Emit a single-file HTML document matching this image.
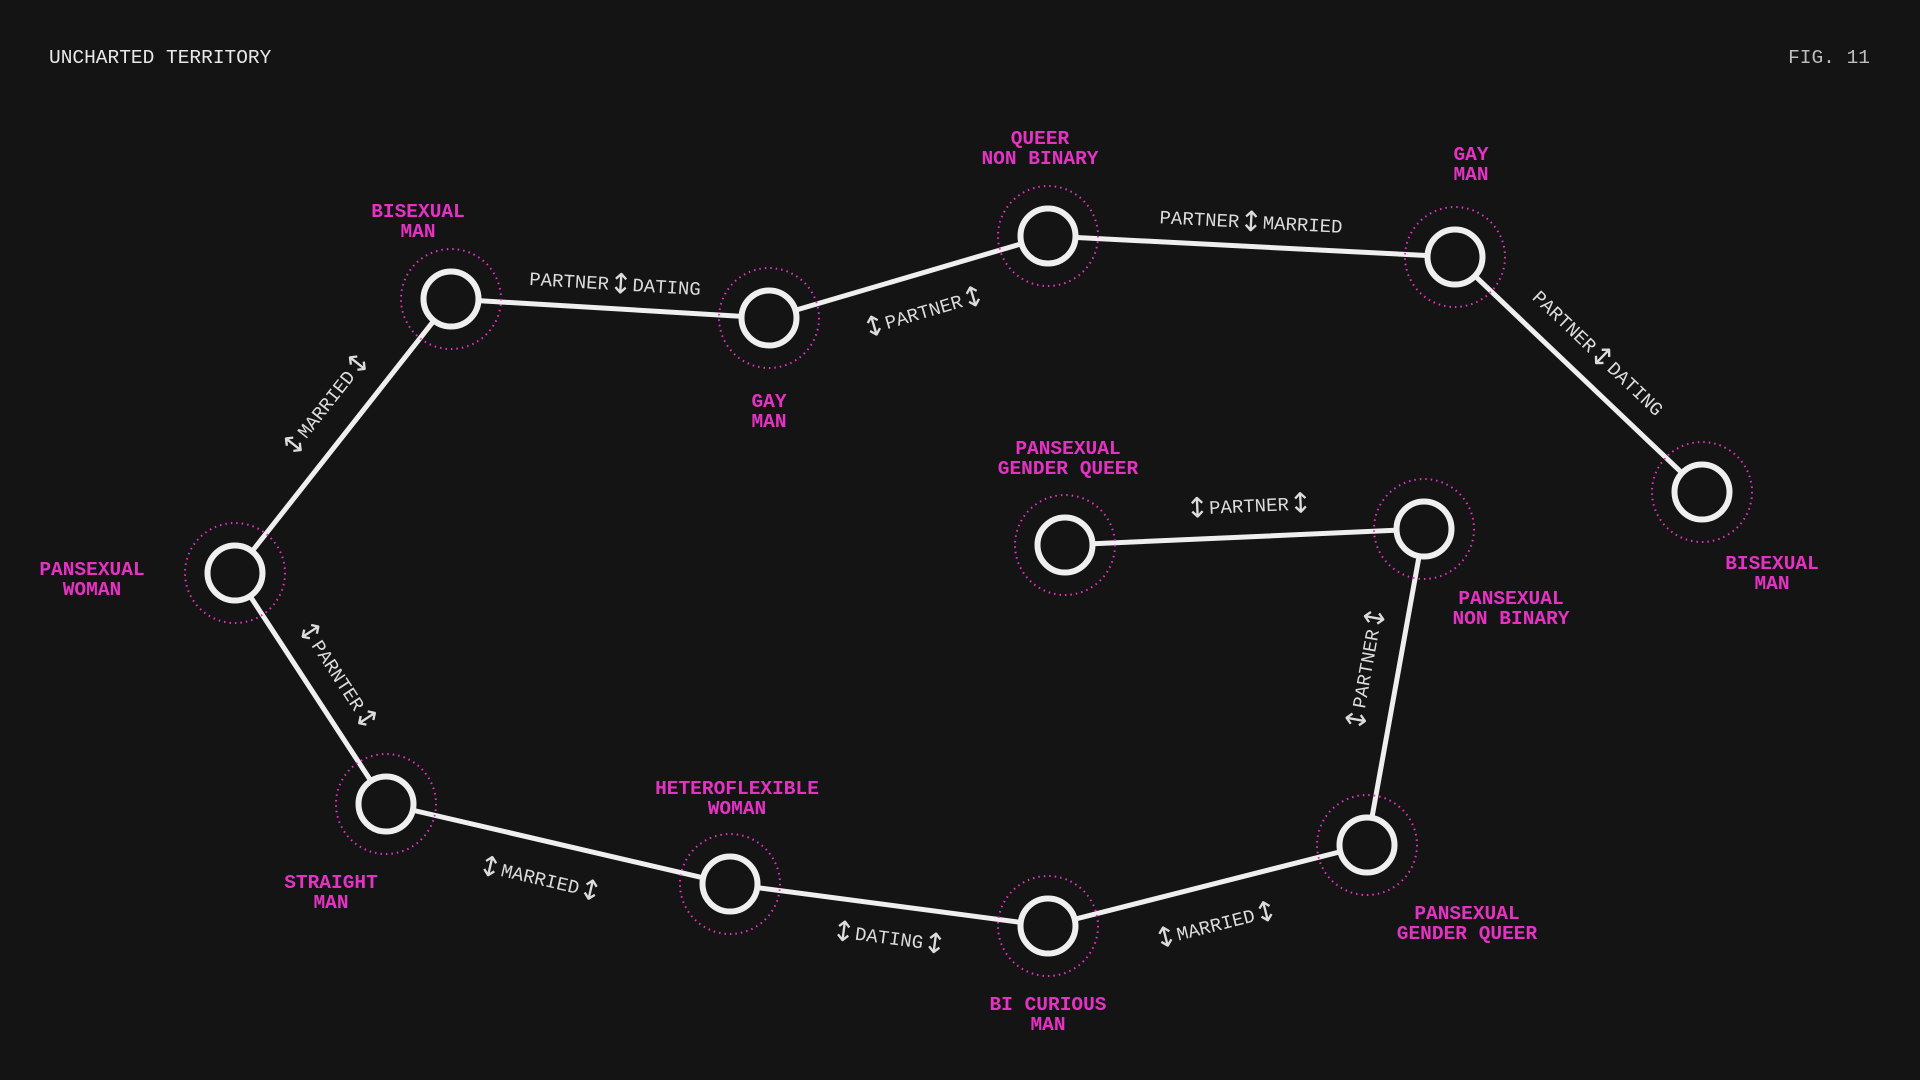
<!DOCTYPE html>
<html><head><meta charset="utf-8"><style>
html,body{margin:0;padding:0;background:#141414;}
svg{display:block}
.t{font-family:"Liberation Mono","DejaVu Sans Mono",monospace;}
.n{fill:#e433c2;font-weight:bold;font-size:19.5px;text-anchor:middle;font-family:"Liberation Mono","DejaVu Sans Mono",monospace;}
.e{fill:#dcdcdc;font-size:19px;text-anchor:middle;dominant-baseline:middle;font-family:"Liberation Mono","DejaVu Sans Mono",monospace;}
.a{font-size:28px;font-family:"DejaVu Sans",sans-serif;}
</style></head><body>
<svg width="1920" height="1080" viewBox="0 0 1920 1080" xmlns="http://www.w3.org/2000/svg">
<rect width="1920" height="1080" fill="#141414"/>
<text x="49" y="63" class="t" fill="#e8e8e8" font-size="19.5">UNCHARTED TERRITORY</text>
<text x="1870" y="63" class="t" fill="#bdbdbd" font-size="19.5" text-anchor="end">FIG. 11</text>
<g stroke="#efefef" stroke-width="5" fill="none" stroke-linecap="round">
<polyline points="386,804 235,573 451,299 769,318 1048,236 1455,257 1702,492"/>
<polyline points="386,804 730,884 1048,926 1367,845 1424,529 1065,545"/>
</g>
<g fill="none" stroke="#e433c2" stroke-width="2" stroke-dasharray="1.5 4">
<circle cx="235" cy="573" r="50"/><circle cx="451" cy="299" r="50"/><circle cx="769" cy="318" r="50"/>
<circle cx="1048" cy="236" r="50"/><circle cx="1455" cy="257" r="50"/><circle cx="1702" cy="492" r="50"/>
<circle cx="1065" cy="545" r="50"/><circle cx="1424" cy="529" r="50"/><circle cx="1367" cy="845" r="50"/>
<circle cx="1048" cy="926" r="50"/><circle cx="730" cy="884" r="50"/><circle cx="386" cy="804" r="50"/>
</g>
<g fill="#141414" stroke="#efefef" stroke-width="6">
<circle cx="235" cy="573" r="27.5"/><circle cx="451" cy="299" r="27.5"/><circle cx="769" cy="318" r="27.5"/>
<circle cx="1048" cy="236" r="27.5"/><circle cx="1455" cy="257" r="27.5"/><circle cx="1702" cy="492" r="27.5"/>
<circle cx="1065" cy="545" r="27.5"/><circle cx="1424" cy="529" r="27.5"/><circle cx="1367" cy="845" r="27.5"/>
<circle cx="1048" cy="926" r="27.5"/><circle cx="730" cy="884" r="27.5"/><circle cx="386" cy="804" r="27.5"/>
</g>
<g class="n">
<text x="92" y="575">PANSEXUAL</text><text x="92" y="595">WOMAN</text>
<text x="418" y="217">BISEXUAL</text><text x="418" y="237">MAN</text>
<text x="769" y="407">GAY</text><text x="769" y="427">MAN</text>
<text x="1040" y="144">QUEER</text><text x="1040" y="164">NON BINARY</text>
<text x="1471" y="160">GAY</text><text x="1471" y="180">MAN</text>
<text x="1772" y="569">BISEXUAL</text><text x="1772" y="589">MAN</text>
<text x="1068" y="454">PANSEXUAL</text><text x="1068" y="474">GENDER QUEER</text>
<text x="1511" y="604">PANSEXUAL</text><text x="1511" y="624">NON BINARY</text>
<text x="1467" y="919">PANSEXUAL</text><text x="1467" y="939">GENDER QUEER</text>
<text x="1048" y="1010">BI CURIOUS</text><text x="1048" y="1030">MAN</text>
<text x="737" y="794">HETEROFLEXIBLE</text><text x="737" y="814">WOMAN</text>
<text x="331" y="888">STRAIGHT</text><text x="331" y="908">MAN</text>
</g>
<g class="e">
<text transform="translate(327,405) rotate(-51.7)"><tspan class="a">↕</tspan>MARRIED<tspan class="a">↕</tspan></text>
<text transform="translate(615,285) rotate(3.4)">PARTNER<tspan class="a">↕</tspan>DATING</text>
<text transform="translate(924,313) rotate(-16.4)"><tspan class="a">↕</tspan>PARTNER<tspan class="a">↕</tspan></text>
<text transform="translate(1251,223) rotate(3)">PARTNER<tspan class="a">↕</tspan>MARRIED</text>
<text transform="translate(1597,354) rotate(43.6)">PARTNER<tspan class="a">↕</tspan>DATING</text>
<text transform="translate(1249,507) rotate(-2.6)"><tspan class="a">↕</tspan>PARTNER<tspan class="a">↕</tspan></text>
<text transform="translate(1367,669) rotate(-79.8)"><tspan class="a">↕</tspan>PARTNER<tspan class="a">↕</tspan></text>
<text transform="translate(337,676) rotate(56.8)"><tspan class="a">↕</tspan>PARNTER<tspan class="a">↕</tspan></text>
<text transform="translate(540,880) rotate(13.1)"><tspan class="a">↕</tspan>MARRIED<tspan class="a">↕</tspan></text>
<text transform="translate(889,939) rotate(7.5)"><tspan class="a">↕</tspan>DATING<tspan class="a">↕</tspan></text>
<text transform="translate(1216,926) rotate(-14.2)"><tspan class="a">↕</tspan>MARRIED<tspan class="a">↕</tspan></text>
</g>
</svg>
</body></html>
